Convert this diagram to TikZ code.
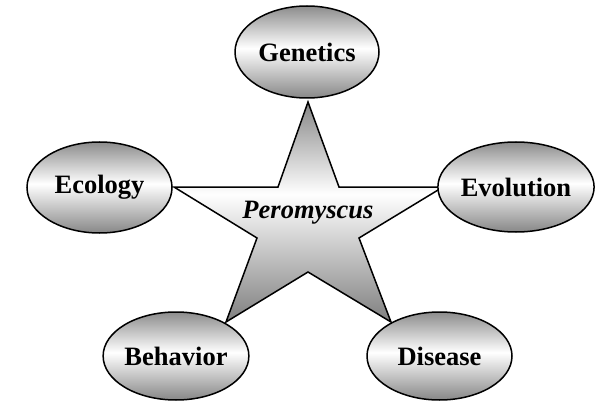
\documentclass[tikz,border=0pt]{standalone}
\usepackage{fontspec}
\setmainfont{Liberation Serif}
\usetikzlibrary{shapes.geometric}
\pgfdeclareverticalshading{starfill}{100bp}{color(0bp)=(black!50); color(25bp)=(black!50); color(54bp)=(white); color(75bp)=(black!47); color(100bp)=(black!47)}
\pgfdeclareverticalshading{ovalfill}{100bp}{color(0bp)=(black!47); color(25bp)=(black!47); color(52bp)=(white); color(75bp)=(black!45); color(100bp)=(black!45)}
\begin{document}
\begin{tikzpicture}[x=1pt,y=-1pt,
  topic/.style={ellipse, draw=black, line width=1.5pt, inner sep=0pt,
    shading=ovalfill,
    font=\fontsize{26.5}{30}\selectfont\bfseries},
  starshape/.style={draw=black, line width=1.5pt, line join=miter,
    shading=starfill},
  centertext/.style={font=\fontsize{26.5}{30}\selectfont\bfseries\itshape, inner sep=0pt}]
\useasboundingbox (0,0) rectangle (597,401);
% star
\draw[starshape] (308,102) -- (339,187) -- (443,187) -- (359,238) -- (391,322)
  -- (308,272) -- (226,322) -- (257,238) -- (174,187) -- (278,187) -- cycle;
\node[centertext] (center) at (308,213) {Peromyscus};
% topics
\node[topic, minimum width=144pt, minimum height=92pt] (genetics) at (307,52) {Genetics};
\node[topic, minimum width=145pt, minimum height=91pt] (ecology) at (99.5,187.5) {Ecology};
\node[topic, minimum width=143pt, minimum height=90pt] (evolution) at (516,187) {Evolution};
\node[topic, minimum width=142pt, minimum height=88pt] (behavior) at (176,356) {Behavior};
\node[topic, minimum width=145pt, minimum height=88pt] (disease) at (439.5,356) {Disease};
\end{tikzpicture}
\end{document}
